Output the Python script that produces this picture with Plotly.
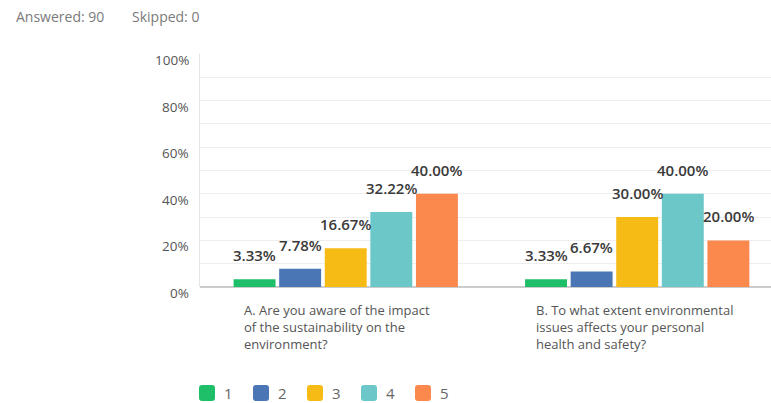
import plotly.graph_objects as go

# Survey results: share of respondents per rating (1-5) for each question
questions = [
    "A. Are you aware of the impact<br>of the sustainability on the<br>environment?",
    "B. To what extent environmental<br>issues affects your personal<br>health and safety?",
]
ratings = ["1", "2", "3", "4", "5"]
values = {
    "1": [3.33, 3.33],
    "2": [7.78, 6.67],
    "3": [16.67, 30.00],
    "4": [32.22, 40.00],
    "5": [40.00, 20.00],
}
colors = ["#1fbf6a", "#4a76b5", "#f7bb15", "#6cc7c9", "#fb884d"]
y_ticks = [0, 20, 40, 60, 80, 100]
answered, skipped = 90, 0

W, H = 771, 403
ML, MR, MT, MB = 200, 0, 54, 116
PW, PH = W - ML - MR, H - MT - MB
BARGAP = 0.218
GROUPGAP = 0.08
n = len(ratings)
slot = (1 - BARGAP) / n


def px(x):
    """pixel column -> paper x"""
    return (x - ML) / PW


def py(y):
    """pixel row (from top) -> paper y"""
    return (H - MB - y) / PH


fig = go.Figure()
xpos = list(range(len(questions)))
for i, r in enumerate(ratings):
    fig.add_trace(go.Bar(
        x=xpos, y=values[r], name=r, marker=dict(color=colors[i], line=dict(width=0)),
        hoverinfo="skip", showlegend=False,
    ))
    # value labels above each bar
    for gx, v in zip(xpos, values[r]):
        fig.add_annotation(
            x=gx - (1 - BARGAP) / 2 + slot * (i + 0.5), y=v, xref="x", yref="y",
            text=f"{v:.2f}%", showarrow=False, yanchor="bottom", yshift=12,
            font=dict(family="Open Sans", size=15, color="#3a3a3a", weight=600),
        )

# y tick labels
for t in y_ticks:
    fig.add_annotation(
        x=0, y=t, xref="paper", yref="y", text=f"{t}%", showarrow=False,
        xanchor="right", xshift=-9, yshift=-6,
        font=dict(family="Open Sans", size=13.5, color="#555555"),
    )

# question labels under each group
for gx, q in zip(xpos, questions):
    fig.add_annotation(
        x=gx - 0.355, y=0, xref="x", yref="y", text=q, showarrow=False,
        xanchor="left", yanchor="top", yshift=-12, align="left",
        font=dict(family="Open Sans", size=13, color="#555555"),
    )

# header
fig.add_annotation(
    x=px(14), y=py(17), xref="paper", yref="paper",
    text=f"Answered: {answered}", showarrow=False, xanchor="left", yanchor="middle",
    font=dict(family="Open Sans", size=14, color="#7a7a7a"),
)
fig.add_annotation(
    x=px(130), y=py(17), xref="paper", yref="paper",
    text=f"Skipped: {skipped}", showarrow=False, xanchor="left", yanchor="middle",
    font=dict(family="Open Sans", size=14, color="#7a7a7a"),
)

# legend: rounded swatches with rating labels
top, bot, rad, size = 385, 401, 3, 16
for i, r in enumerate(ratings):
    x0 = 199 + 54 * i
    x1 = x0 + size
    pts = [
        ("M", x0 + rad, top), ("L", x1 - rad, top), ("Q", x1, top, x1, top + rad),
        ("L", x1, bot - rad), ("Q", x1, bot, x1 - rad, bot), ("L", x0 + rad, bot),
        ("Q", x0, bot, x0, bot - rad), ("L", x0, top + rad), ("Q", x0, top, x0 + rad, top),
    ]
    path = ""
    for p in pts:
        cmd, coords = p[0], p[1:]
        parts = [f"{px(coords[k]):.5f},{py(coords[k + 1]):.5f}" for k in range(0, len(coords), 2)]
        path += f"{cmd} {' '.join(parts)} "
    path += "Z"
    fig.add_shape(
        type="path", xref="paper", yref="paper", layer="above",
        path=path, fillcolor=colors[i], line=dict(width=0),
    )
    fig.add_annotation(
        x=px(x0 + 23), y=py(392.5), xref="paper", yref="paper", text=r,
        showarrow=False, xanchor="left", yanchor="middle",
        font=dict(family="Open Sans", size=15, color="#666666"),
    )

fig.update_layout(
    width=W, height=H,
    margin=dict(l=ML, r=MR, t=MT, b=MB),
    paper_bgcolor="white", plot_bgcolor="white",
    barmode="group", bargap=BARGAP, bargroupgap=GROUPGAP,
    showlegend=False,
    xaxis=dict(
        range=[-0.5, 1.459], showticklabels=False, showgrid=False,
        zeroline=False, showline=False, ticks="",
    ),
    yaxis=dict(
        range=[0, 100], tickvals=y_ticks, showticklabels=False,
        showgrid=True, gridcolor="#eeeeee", gridwidth=1,
        minor=dict(dtick=10, showgrid=True, gridcolor="#eeeeee"),
        zeroline=True, zerolinecolor="#cccccc", zerolinewidth=1.5,
        showline=True, linecolor="#e4e4e4", linewidth=1, ticks="",
    ),
)

fig.write_html("out.html")
